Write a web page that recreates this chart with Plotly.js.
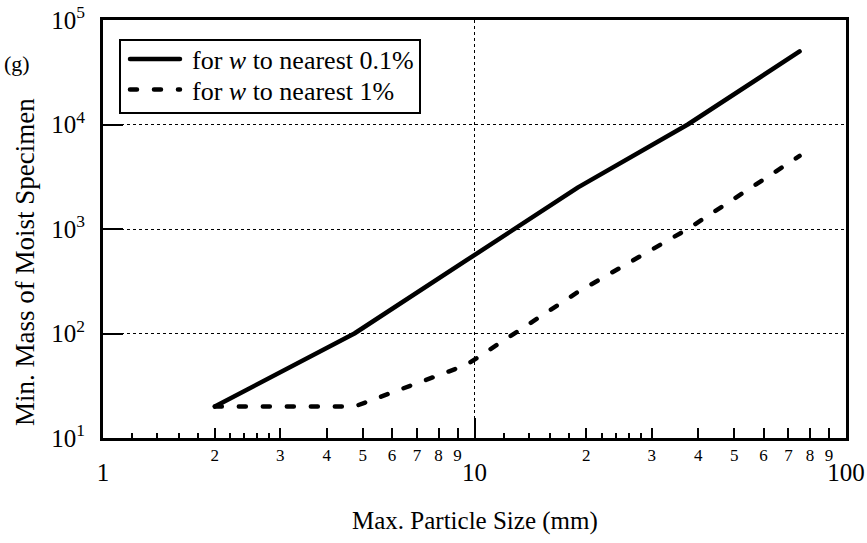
<!DOCTYPE html>
<html>
<head>
<meta charset="utf-8">
<script src="https://cdn.plot.ly/plotly-3.0.1.min.js"></script>
<style>
html,body{margin:0;padding:0;background:#fff;}
#chart{width:867px;height:543px;}
#chart .scatterlayer path.js-line, #chart .legendlines path{stroke-linecap:round;stroke-linejoin:round;}
</style>
</head>
<body>
<div id="chart"></div>
<script>
// Data (minimum specimen mass vs. max particle size)
const particleSize = [2, 4.75, 9.5, 19, 37.5, 75];          // mm
const massNearest01 = [20, 100, 500, 2500, 10000, 50000];   // g, w to nearest 0.1%
const massNearest1 = [20, 20, 50, 250, 1000, 5000];         // g, w to nearest 1%
const seriesNames = ["for <i>w</i> to nearest 0.1%", "for <i>w</i> to nearest 1%"];

// Tick definitions
const xMidTicks = [2, 3, 4, 5, 6, 7, 8, 9, 20, 30, 40, 50, 60, 70, 80, 90];
const xMidLabels = ["2", "3", "4", "5", "6", "7", "8", "9", "2", "3", "4", "5", "6", "7", "8", "9"];
const xSmallTicks = [1.2, 1.4, 1.6, 1.8, 2.2, 2.4, 2.6, 2.8, 12, 14, 16, 18, 22, 24, 26, 28];
const xDecadeTicks = [1, 10, 100];
const xDecadeLabels = ["1", "10", "100"];
const yTicks = [10, 100, 1000, 10000, 100000];
const yLabels = ["10<sup>1</sup>", "10<sup>2</sup>", "10<sup>3</sup>", "10<sup>4</sup>", "10<sup>5</sup>"];

const FONT = "Liberation Serif";

const traces = [
  {x: particleSize, y: massNearest01, type: "scatter", mode: "lines", name: seriesNames[0],
   line: {color: "#000", width: 4.5}, xaxis: "x", yaxis: "y"},
  {x: particleSize, y: massNearest1, type: "scatter", mode: "lines", name: seriesNames[1],
   line: {color: "#000", width: 4.5, dash: "7px,17px"}, xaxis: "x2", yaxis: "y"}
];

const layout = {
  width: 867, height: 543,
  margin: {l: 103, r: 21, t: 20, b: 105},
  paper_bgcolor: "#fff", plot_bgcolor: "#fff",
  font: {family: FONT, color: "#000", size: 22},
  showlegend: true,
  legend: {x: 0.0215, y: 0.9545, xanchor: "left", yanchor: "top",
           bordercolor: "#000", borderwidth: 2, bgcolor: "#fff",
           font: {family: FONT, size: 26, color: "#000"},
           itemwidth: 61, tracegroupgap: 0},
  xaxis: {
    type: "log", range: [0, 2], fixedrange: true,
    tickmode: "array", tickvals: xMidTicks, ticktext: xMidLabels,
    ticks: "inside", ticklen: 10, tickwidth: 2, tickcolor: "#000",
    tickfont: {family: FONT, size: 17, color: "#000"},
    showgrid: false, zeroline: false,
    showline: true, linecolor: "#000", linewidth: 3, mirror: true,
    minor: {tickmode: "array", tickvals: xSmallTicks, ticks: "inside", ticklen: 5,
            tickwidth: 2, tickcolor: "#000", showgrid: false}
  },
  xaxis2: {
    type: "log", range: [0, 2], fixedrange: true, overlaying: "x", anchor: "y", side: "bottom",
    tickmode: "array", tickvals: xDecadeTicks, ticktext: xDecadeLabels,
    ticks: "inside", ticklen: 20, tickwidth: 2, tickcolor: "#000",
    tickfont: {family: FONT, size: 25, color: "#000"}, ticklabelstandoff: 17,
    showgrid: true, gridcolor: "#000", gridwidth: 1, griddash: "dot",
    zeroline: false, showline: false
  },
  yaxis: {
    type: "log", range: [1, 5], fixedrange: true,
    tickmode: "array", tickvals: yTicks, ticktext: yLabels,
    ticks: "inside", ticklen: 20, tickwidth: 2, tickcolor: "#000",
    tickfont: {family: FONT, size: 25, color: "#000"}, ticklabelstandoff: 10,
    showgrid: true, gridcolor: "#000", gridwidth: 1, griddash: "dot",
    zeroline: false,
    showline: true, linecolor: "#000", linewidth: 3, mirror: true
  },
  annotations: [
    {text: "Min. Mass of Moist Specimen", xref: "paper", yref: "paper",
     x: -0.105, y: 0.421, xanchor: "center", yanchor: "middle", textangle: -90,
     showarrow: false, font: {family: FONT, size: 27, color: "#000"}},
    {text: "(g)", xref: "paper", yref: "paper",
     x: -0.116, y: 0.897, xanchor: "center", yanchor: "middle",
     showarrow: false, font: {family: FONT, size: 22, color: "#000"}},
    {text: "Max. Particle Size (mm)", xref: "paper", yref: "paper",
     x: 0.5, y: -0.199, xanchor: "center", yanchor: "middle",
     showarrow: false, font: {family: FONT, size: 25, color: "#000"}}
  ]
};

// Legend styling tweaks: longer key lines and tighter row spacing (as in the reference)
const LEGEND_ROW0 = 20, LEGEND_ROWGAP = 30.5, LEGEND_HEIGHT = 73;
function tweakLegend() {
  document.querySelectorAll("#chart .legendlines path").forEach(function (p) {
    p.setAttribute("d", "M9,0h50");
  });
  const items = document.querySelectorAll("#chart .legend .traces");
  items.forEach(function (g, i) {
    const t = g.getAttribute("transform") || "";
    const m = t.match(/translate\(\s*([-\d.]+)[ ,]+([-\d.]+)\s*\)/);
    const x = m ? parseFloat(m[1]) : 0;
    g.setAttribute("transform", "translate(" + x + "," + (LEGEND_ROW0 + LEGEND_ROWGAP * i) + ")");
  });
  const bg = document.querySelector("#chart .legend rect.bg");
  if (bg) bg.setAttribute("height", LEGEND_HEIGHT);
}

Plotly.newPlot("chart", traces, layout, {staticPlot: true, displayModeBar: false})
  .then(function (gd) {
    tweakLegend();
    gd.on("plotly_afterplot", tweakLegend);
  });
</script>
</body>
</html>
